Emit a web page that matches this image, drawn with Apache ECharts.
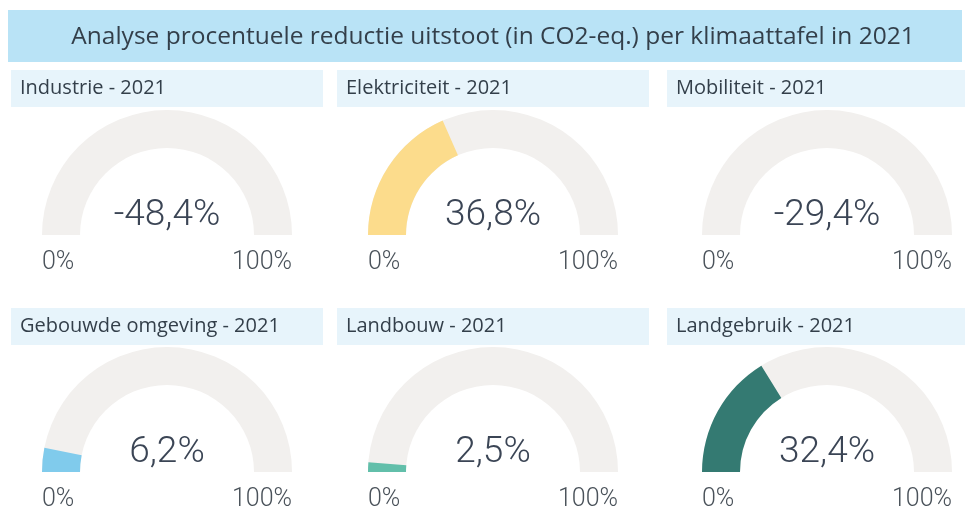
<!DOCTYPE html>
<html>
<head>
<meta charset="utf-8">
<script src="https://cdn.jsdelivr.net/npm/echarts@6/dist/echarts.min.js"></script>
<style>
html,body{margin:0;padding:0;background:#fff;}
#chart{width:970px;height:509px;}
</style>
</head>
<body>
<div id="chart"></div>
<script>
const chartTitle = 'Analyse procentuele reductie uitstoot (in CO2-eq.) per klimaattafel in 2021';
const categories = ['Industrie', 'Elektriciteit', 'Mobiliteit', 'Gebouwde omgeving', 'Landbouw', 'Landgebruik'];
const year = '2021';
const values = [-48.4, 36.8, -29.4, 6.2, 2.5, 32.4];
const gaugeColors = ['#f6c9a0', '#fcdc8c', '#b9a3d6', '#80cbec', '#62bfaa', '#347a72'];
const minLabel = '0%';
const maxLabel = '100%';
const gaugeMin = 0;
const gaugeMax = 100;

const chart = echarts.init(document.getElementById('chart'), null, {renderer: 'canvas'});

const colX = [167, 493, 827];
const rowY = [235, 472];
const headerX = [[11, 323], [337, 649], [667, 965]];
const headerY = [70, 308];
const R = 125, W = 38;
const textColor = '#333f4a';

const graphics = [];
graphics.push({type: 'rect', shape: {x: 8, y: 10, width: 954, height: 52}, style: {fill: '#b9e3f6'}, silent: true});
graphics.push({type: 'text', x: 493, y: 37, style: {text: chartTitle, fill: textColor, font: '24.5px "Open Sans"', textAlign: 'center', textVerticalAlign: 'middle'}});

const series = [];
categories.forEach((cat, i) => {
  const col = i % 3, row = Math.floor(i / 3);
  const hx = headerX[col], hy = headerY[row];
  graphics.push({type: 'rect', shape: {x: hx[0], y: hy, width: hx[1] - hx[0], height: 37}, style: {fill: '#e7f4fb'}, silent: true});
  graphics.push({type: 'text', x: hx[0] + 9, y: hy + 18.5, style: {text: cat + ' - ' + year, fill: textColor, font: '20px "Open Sans"', textVerticalAlign: 'middle'}});
  const cx = colX[col], cy = rowY[row];
  graphics.push({type: 'text', x: cx - R, y: cy + 28, style: {text: minLabel, fill: '#4a525a', font: '300 25px Roboto', textAlign: 'left', textVerticalAlign: 'middle'}});
  graphics.push({type: 'text', x: cx + R, y: cy + 28, style: {text: maxLabel, fill: '#4a525a', font: '300 25px Roboto', textAlign: 'right', textVerticalAlign: 'middle'}});
  series.push({
    type: 'gauge',
    center: [cx, cy],
    radius: R,
    startAngle: 180,
    endAngle: 0,
    min: gaugeMin,
    max: gaugeMax,
    pointer: {show: false},
    anchor: {show: false},
    axisTick: {show: false},
    splitLine: {show: false},
    axisLabel: {show: false},
    title: {show: false},
    axisLine: {lineStyle: {width: W, color: [[1, '#f2f0ee']]}},
    progress: {show: values[i] > 0, width: W, roundCap: false, itemStyle: {color: gaugeColors[i]}},
    detail: {
      offsetCenter: [0, -19],
      fontSize: 37,
      fontWeight: 300,
      fontFamily: 'Roboto',
      color: '#3b4555',
      valueAnimation: false,
      formatter: v => v.toFixed(1).replace('.', ',') + '%'
    },
    data: [{value: values[i]}]
  });
});

chart.setOption({
  animation: false,
  backgroundColor: '#ffffff',
  graphic: graphics,
  series: series
});
</script>
</body>
</html>
